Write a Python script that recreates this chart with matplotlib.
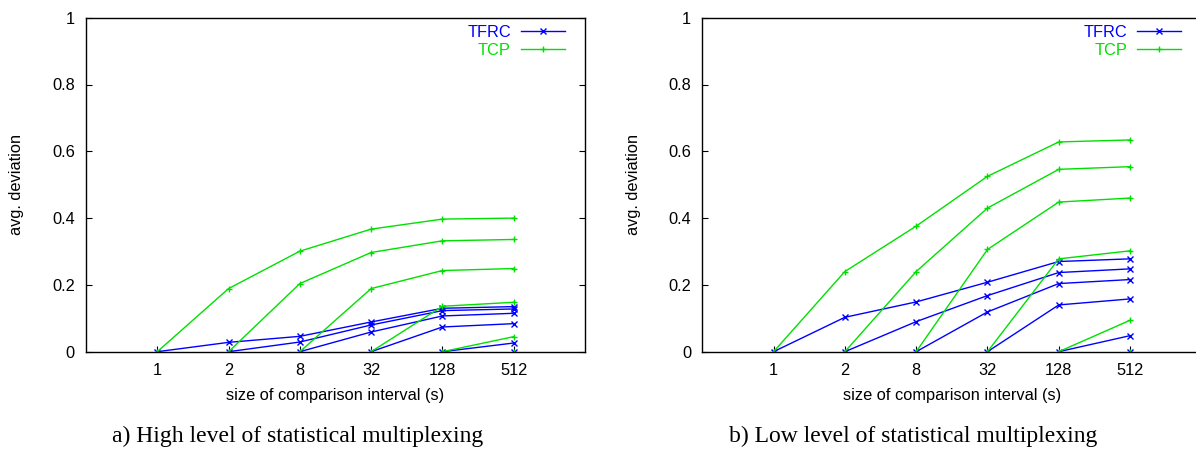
import numpy as np
import matplotlib
matplotlib.use("Agg")
import matplotlib.pyplot as plt

# comparison interval sizes (s), drawn at equal spacing
intervals = ["1", "2", "8", "32", "128", "512"]

# each series k starts at interval k with 0 deviation
# a) high level of statistical multiplexing
tfrc_high = [
    [0.0, 0.028, 0.046, 0.089, 0.130, 0.135],
    [0.0, 0.029, 0.080, 0.123, 0.128],
    [0.0, 0.059, 0.107, 0.115],
    [0.0, 0.074, 0.084],
    [0.0, 0.026],
    [0.0],
]
tcp_high = [
    [0.0, 0.189, 0.301, 0.367, 0.397, 0.400],
    [0.0, 0.204, 0.297, 0.332, 0.336],
    [0.0, 0.189, 0.243, 0.249],
    [0.0, 0.136, 0.148],
    [0.0, 0.045],
    [0.0],
]

# b) low level of statistical multiplexing
tfrc_low = [
    [0.0, 0.103, 0.149, 0.208, 0.270, 0.278],
    [0.0, 0.090, 0.168, 0.237, 0.248],
    [0.0, 0.119, 0.204, 0.216],
    [0.0, 0.140, 0.158],
    [0.0, 0.048],
    [0.0],
]
tcp_low = [
    [0.0, 0.240, 0.376, 0.525, 0.628, 0.634],
    [0.0, 0.240, 0.430, 0.546, 0.554],
    [0.0, 0.306, 0.448, 0.460],
    [0.0, 0.278, 0.302],
    [0.0, 0.094],
    [0.0],
]

captions = ["a) High level of statistical multiplexing",
            "b) Low level of statistical multiplexing"]

BLUE = "#0000ff"
GREEN = "#00e000"
SANS = ["Liberation Sans", "DejaVu Sans"]
SERIF = ["Liberation Serif", "DejaVu Serif"]
FS = 11.8

fig = plt.figure(figsize=(11.96, 4.53), dpi=100)
W, H = 1196.0, 453.0

panels = [(86.0, tfrc_high, tcp_high, captions[0], 297.5, True),
          (702.3, tfrc_low, tcp_low, captions[1], 913.5, False)]

x = np.arange(1, len(intervals) + 1)

for left_px, tfrc, tcp, cap, cap_x, right_ticks in panels:
    ax = fig.add_axes([left_px / W, 1 - 351.7 / H, 499 / W, (351.7 - 17.7) / H])
    for k, s in enumerate(tfrc):
        ax.plot(x[k:k + len(s)], s, color=BLUE, lw=1.0, marker="x", ms=4.5, mew=1.0,
                label="TFRC" if k == 0 else None)
    for k, s in enumerate(tcp):
        ax.plot(x[k:k + len(s)], s, color=GREEN, lw=1.0, marker="+", ms=5, mew=1.0,
                label="TCP" if k == 0 else None)

    ax.set_xlim(0, 7)
    ax.set_ylim(0, 1)
    ax.set_xticks(x)
    ax.set_xticklabels(intervals)
    ax.set_yticks([0, 0.2, 0.4, 0.6, 0.8, 1])
    ax.set_yticklabels(["0", "0.2", "0.4", "0.6", "0.8", "1"])
    ax.tick_params(direction="in", length=4, width=0.8, right=right_ticks, top=False,
                   labelsize=FS, pad=8)
    for t in ax.get_xticklabels() + ax.get_yticklabels():
        t.set_family(SANS)
    for sp in ax.spines.values():
        sp.set_linewidth(1.0)

    ax.set_xlabel("size of comparison interval (s)", fontsize=FS, family=SANS, labelpad=7)
    ax.set_ylabel("avg. deviation", fontsize=FS, family=SANS, labelpad=20)

    ax.legend(loc="upper right", bbox_to_anchor=(1 - 20 / 499, 0.978),
              frameon=False, markerfirst=False, labelcolor="linecolor",
              handlelength=2.7, handletextpad=0.6, labelspacing=0.15,
              borderpad=0, borderaxespad=0, numpoints=1,
              prop={"family": SANS, "size": FS})

    fig.text(cap_x / W, 1 - 436 / H, cap, ha="center", va="center",
             family=SERIF, fontsize=17)

fig.savefig("out.png", dpi=100)
